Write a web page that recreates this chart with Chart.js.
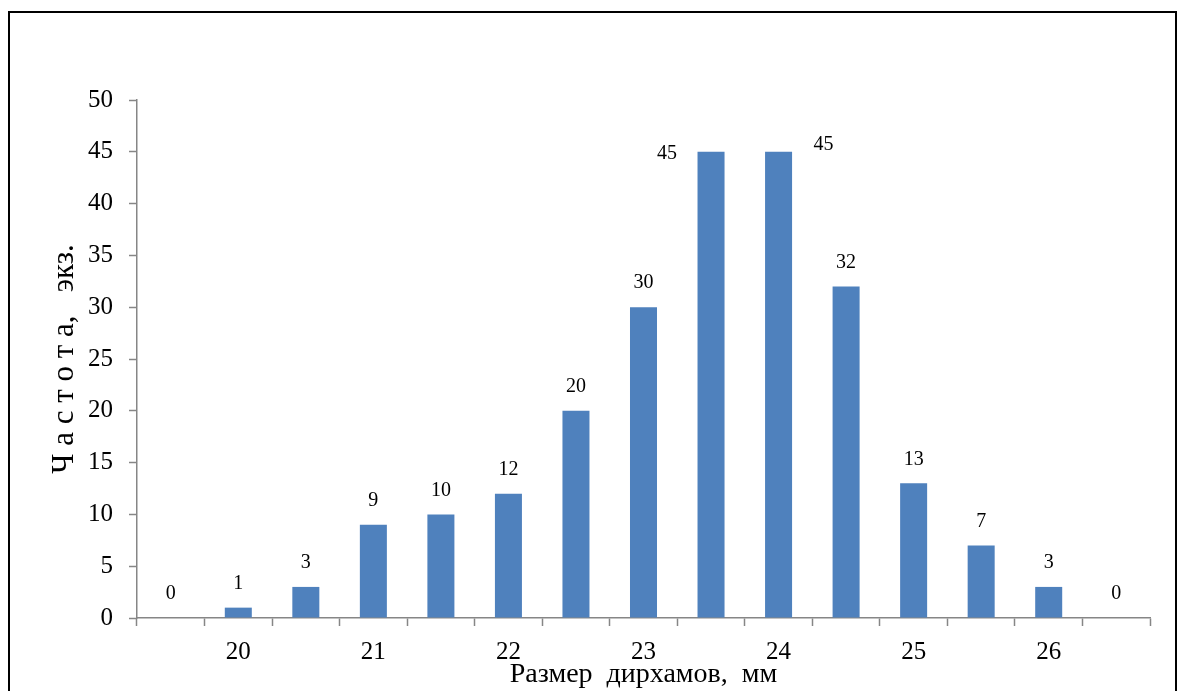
<!DOCTYPE html>
<html>
<head>
<meta charset="utf-8">
<script src="https://cdn.jsdelivr.net/npm/chart.js@4"></script>
<style>
  html, body { margin: 0; padding: 0; background: #fff; overflow: hidden; }
  #wrap { position: absolute; left: 0; top: 0; width: 1178px; height: 691px; }
  #frame {
    position: absolute; left: 8px; top: 11px; width: 1165px; height: 700px;
    border: 2px solid #000; border-bottom: none;
  }
  canvas { position: absolute; left: 0; top: 0; }
</style>
</head>
<body>
<div id="wrap">
  <div id="frame"></div>
  <canvas id="sizeChart" width="1178" height="691"></canvas>
</div>
<script>
// Coin size classes (mm) and counts
const sizes = [19.5, 20, 20.5, 21, 21.5, 22, 22.5, 23, 23.5, 24, 24.5, 25, 25.5, 26, 26.5];
const counts = [0, 1, 3, 9, 10, 12, 20, 30, 45, 45, 32, 13, 7, 3, 0];
const yTicks = [0, 5, 10, 15, 20, 25, 30, 35, 40, 45, 50];

const AXIS_GRAY = '#868686';
const SERIF = '"Liberation Serif", "Times New Roman", serif';

// value labels above the bars (the two tallest are shifted to the side)
const barLabels = {
    id: 'barLabels',
    afterDatasetsDraw(chart) {
        const ctx = chart.ctx;
        const meta = chart.getDatasetMeta(0);
        const special = { 8: [-44, 2], 9: [45, -7] };
        ctx.save();
        ctx.font = '20px ' + SERIF;
        ctx.fillStyle = '#000';
        ctx.textAlign = 'center';
        ctx.textBaseline = 'middle';
        meta.data.forEach((bar, i) => {
            let x = bar.x, y = bar.y - 24;
            if (special[i]) {
                x = bar.x + special[i][0];
                y = bar.y + special[i][1];
            }
            ctx.fillText(String(counts[i]), x, y);
        });
        ctx.restore();
    }
};

new Chart(document.getElementById('sizeChart'), {
    type: 'bar',
    data: {
        labels: sizes,
        datasets: [{
            data: counts,
            backgroundColor: '#4F81BD',
            borderWidth: 0,
            categoryPercentage: 1,
            barPercentage: 0.4
        }]
    },
    options: {
        responsive: false,
        animation: false,
        layout: { padding: { left: 0, right: 28, top: 100, bottom: 0 } },
        plugins: { legend: { display: false }, tooltip: { enabled: false } },
        scales: {
            x: {
                afterFit: s => { s.height = 73; },
                grid: {
                    offset: true,
                    drawOnChartArea: false,
                    drawTicks: true,
                    tickLength: 8,
                    tickWidth: 1.5,
                    color: AXIS_GRAY
                },
                border: { color: AXIS_GRAY, width: 1.5 },
                ticks: {
                    autoSkip: false,
                    maxRotation: 0,
                    padding: 11,
                    color: '#000',
                    font: { family: SERIF, size: 25 },
                    callback: function (v, i) {
                        const s = sizes[i];
                        return Number.isInteger(s) ? String(s) : '';
                    }
                },
                title: {
                    display: true,
                    text: 'Размер\u00a0\u00a0дирхамов,\u00a0\u00a0мм',
                    color: '#000',
                    font: { family: SERIF, size: 28 },
                    padding: { top: 0, bottom: 0 }
                }
            },
            y: {
                min: 0,
                max: 50,
                afterFit: s => { s.width = 137; },
                afterBuildTicks: s => { s.ticks = yTicks.map(v => ({ value: v })); },
                grid: {
                    drawOnChartArea: false,
                    drawTicks: true,
                    tickLength: 8,
                    tickWidth: 1.5,
                    color: AXIS_GRAY
                },
                border: { color: AXIS_GRAY, width: 1.5 },
                ticks: {
                    padding: 16,
                    color: '#000',
                    font: { family: SERIF, size: 25 }
                },
                title: {
                    display: true,
                    text: 'Ч а с т о т а,\u00a0\u00a0\u00a0экз.',
                    color: '#000',
                    font: { family: SERIF, size: 31 },
                    padding: { top: 46, bottom: 0 }
                }
            }
        }
    },
    plugins: [barLabels]
});
</script>
</body>
</html>
